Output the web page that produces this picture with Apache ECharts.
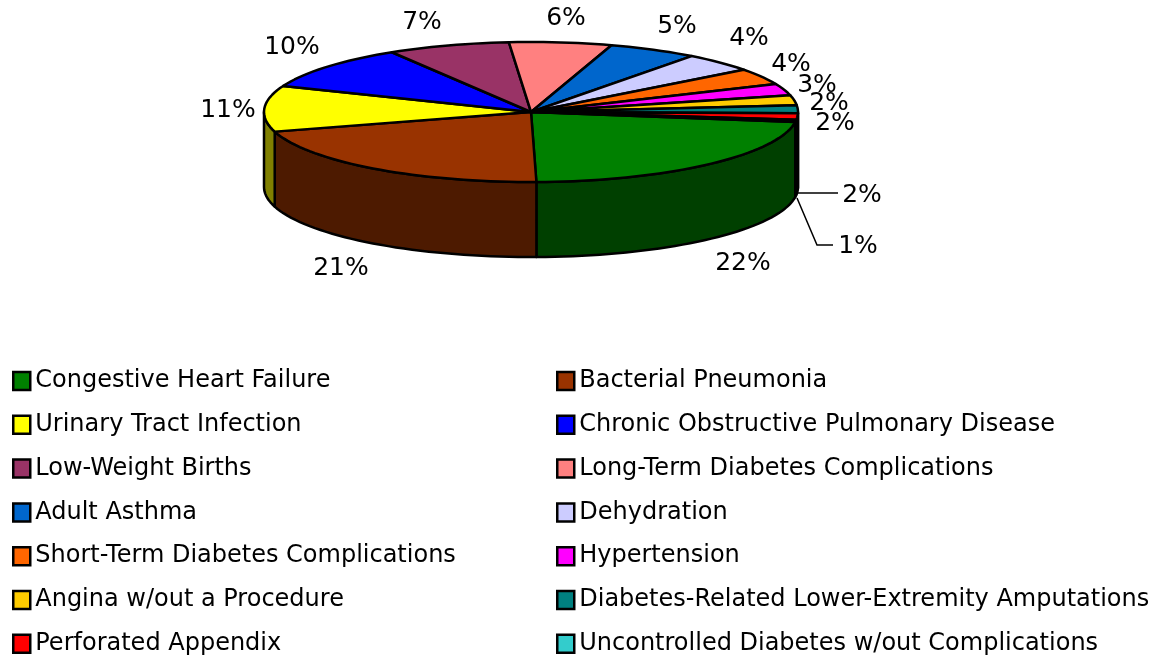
<!DOCTYPE html>
<html>
<head>
<meta charset="utf-8">
<script src="https://cdn.jsdelivr.net/npm/echarts@6/dist/echarts.min.js"></script>
<style>
html, body { margin: 0; padding: 0; background: #fff; }
#chart { width: 1163px; height: 656px; }
</style>
</head>
<body>
<div id="chart"></div>
<script>
var categories = ['Congestive Heart Failure', 'Bacterial Pneumonia', 'Urinary Tract Infection',
    'Chronic Obstructive Pulmonary Disease', 'Low-Weight Births', 'Long-Term Diabetes Complications',
    'Adult Asthma', 'Dehydration', 'Short-Term Diabetes Complications', 'Hypertension',
    'Angina w/out a Procedure', 'Diabetes-Related Lower-Extremity Amputations', 'Perforated Appendix',
    'Uncontrolled Diabetes w/out Complications'];
// percent of the pie (printed labels are these rounded)
var shares = [22.4, 20.8, 10.6, 10.2, 7.4, 6.2, 5.4, 4.4, 3.8, 2.7, 2.3, 1.8, 1.5, 0.5];
var colors = ['#008000', '#993300', '#ffff00', '#0000ff', '#993366', '#ff8080', '#0066cc',
    '#ccccff', '#ff6600', '#ff00ff', '#ffcc00', '#008080', '#ff0000', '#33cccc'];

// pie layout
var cx = 531, cy = 112, rx = 267, ry = 70, depth = 75, startAngle = 8.2;
var fontName = '"DejaVu Sans"';

// where each percent label sits, leader lines for the two small slices
var labelPos = [[743, 263], [341, 268], [228, 110], [292, 47], [422, 22], [566, 18], [677, 26],
    [749, 38], [791, 64], [817, 85], [829, 103], [835, 123], [862, 195], [858, 246]];
var leaders = { 12: [[798, 193], [838, 193]], 13: [[797, 198], [817, 245], [833, 245]] };

function sumBefore(i) {
    var s = 0;
    for (var k = 0; k < i; k++) s += shares[k];
    return s;
}

function pt(deg, dy) {
    var a = deg * Math.PI / 180;
    return [cx + rx * Math.cos(a), cy + ry * Math.sin(a) + (dy || 0)];
}

function arc(from, to, dy) {
    var pts = [];
    var n = Math.max(2, Math.ceil(Math.abs(to - from) / 2));
    for (var i = 0; i <= n; i++) pts.push(pt(from + (to - from) * i / n, dy));
    return pts;
}

function dark(hex) {
    var n = parseInt(hex.slice(1), 16);
    var f = function (v) { return Math.round(v / 2); };
    return 'rgb(' + f(n >> 16) + ',' + f((n >> 8) & 255) + ',' + f(n & 255) + ')';
}

function poly(points, fill, z2) {
    return {
        type: 'polygon', z2: z2, silent: true,
        shape: { points: points },
        style: { fill: fill, stroke: '#000', lineWidth: 2.5, lineJoin: 'round' }
    };
}

function wall(from, to, color) {
    // only the part of the rim facing the viewer gets a side
    var out = [];
    [[0, 180], [360, 540]].forEach(function (r) {
        var a = Math.max(from, r[0]), b = Math.min(to, r[1]);
        if (b > a) out.push(poly(arc(a, b, 0).concat(arc(b, a, depth)), dark(color), 1));
    });
    return out;
}

function sliceRenderer(idx) {
    return function (params, api) {
        var from = startAngle + sumBefore(idx) * 3.6;
        var to = from + api.value(0) * 3.6;
        var kids = wall(from, to, colors[idx]);
        kids.push(poly([[cx, cy]].concat(arc(from, to, 0)), colors[idx], 2));
        if (leaders[idx]) {
            kids.push({
                type: 'polyline', z2: 3, silent: true,
                shape: { points: leaders[idx] },
                style: { stroke: '#000', lineWidth: 1.5, fill: null }
            });
        }
        kids.push({
            type: 'text', z2: 4, silent: true,
            style: {
                text: Math.round(api.value(0)) + '%',
                x: labelPos[idx][0], y: labelPos[idx][1],
                font: '25px ' + fontName, fill: '#000',
                align: 'center', verticalAlign: 'middle'
            }
        });
        return { type: 'group', children: kids };
    };
}

var series = categories.map(function (name, i) {
    return {
        name: name,
        type: 'custom',
        coordinateSystem: 'none',
        animation: false,
        silent: true,
        itemStyle: { color: colors[i] },
        data: [[shares[i]]],
        renderItem: sliceRenderer(i)
    };
});

function legendColumn(left, offset) {
    return {
        orient: 'vertical',
        left: left,
        top: 369,
        height: 287,
        padding: 0,
        itemWidth: 17,
        itemHeight: 18,
        itemGap: 19.8,
        icon: 'rect',
        selectedMode: false,
        itemStyle: { borderColor: '#000', borderWidth: 2.5 },
        textStyle: { fontFamily: fontName, fontSize: 24, color: '#000' },
        data: categories.filter(function (c, i) { return i % 2 === offset; })
    };
}

var myChart = echarts.init(document.getElementById('chart'), null, { renderer: 'canvas' });
myChart.setOption({
    animation: false,
    backgroundColor: '#fff',
    legend: [legendColumn(12, 0), legendColumn(556, 1)],
    series: series
});
</script>
</body>
</html>
